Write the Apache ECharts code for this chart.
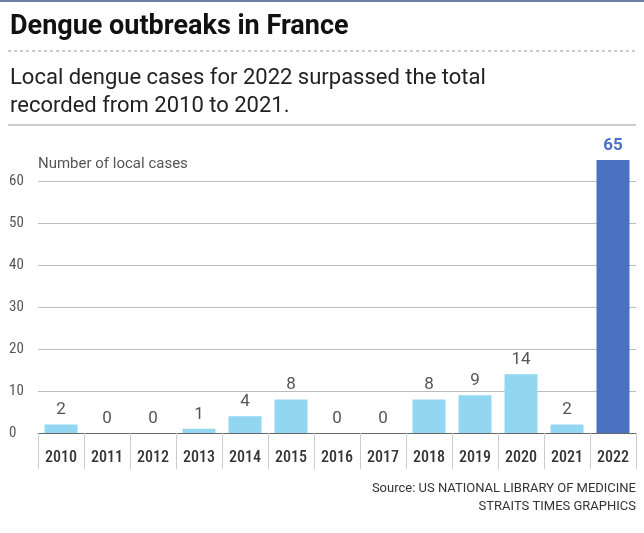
<!DOCTYPE html>
<html><head><meta charset="utf-8">
<script src="https://cdn.jsdelivr.net/npm/echarts@6/dist/echarts.min.js"></script>
<style>body{margin:0;background:#fff}#c{width:644px;height:533px}</style>
</head><body><div id="c"></div>
<script>
var years = ['2010','2011','2012','2013','2014','2015','2016','2017','2018','2019','2020','2021','2022'];
var cases = [2,0,0,1,4,8,0,0,8,9,14,2,65];
var yTicks = [0,10,20,30,40,50,60];

var chart = echarts.init(document.getElementById('c'));
var font = 'Roboto Condensed, Roboto, sans-serif';
chart.setOption({
  animation: false,
  grid: {left: 38, right: 8, top: 181, bottom: 100},
  graphic: [
    {type: 'rect', shape: {x: 0, y: 0, width: 644, height: 2}, style: {fill: '#6b7fa8'}},
    {type: 'text', left: 10, top: 14, style: {text: 'Dengue outbreaks in France', font: 'bold 27px Roboto, sans-serif', fill: '#111'}},
    {type: 'line', shape: {x1: 8, y1: 51, x2: 636, y2: 51}, style: {stroke: '#999', lineDash: [3, 3]}},
    {type: 'text', left: 10, top: 64, style: {text: 'Local dengue cases for 2022 surpassed the total\nrecorded from 2010 to 2021.', font: '22px Roboto, sans-serif', lineHeight: 28, fill: '#222'}},
    {type: 'line', shape: {x1: 8, y1: 125, x2: 636, y2: 125}, style: {stroke: '#999'}},
    {type: 'text', left: 38, top: 157, style: {text: 'Number of local cases', font: '15px Roboto, sans-serif', fill: '#555'}},
    {type: 'text', right: 8, top: 482, style: {text: 'Source: US NATIONAL LIBRARY OF MEDICINE', font: '13px Roboto, sans-serif', fill: '#333'}},
    {type: 'text', right: 8, top: 500, style: {text: 'STRAITS TIMES GRAPHICS', font: '13px Roboto, sans-serif', fill: '#333'}}
  ],
  xAxis: {
    type: 'category', data: years,
    axisLine: {lineStyle: {color: '#666'}},
    axisTick: {show: true, length: 36, lineStyle: {color: '#ccc'}},
    axisLabel: {color: '#333', fontSize: 16, margin: 17, fontFamily: font, fontWeight: 500}
  },
  yAxis: {
    type: 'value', min: 0, max: 60, interval: 10,
    axisLabel: {color: '#555', fontSize: 15, align: 'left', margin: 29, fontFamily: font,
      formatter: function (v) { return yTicks.indexOf(v) >= 0 ? v : ''; }},
    splitLine: {lineStyle: {color: '#bbb'}}
  },
  series: [{
    type: 'bar', clip: false, barWidth: 33,
    data: cases.map(function (v, i) {
      var last = i === cases.length - 1;
      return {value: v, itemStyle: {color: last ? '#4a70c2' : '#93d6f2'},
        label: last ? {color: '#4a70c2', fontWeight: 'bold'} : {}};
    }),
    label: {show: true, position: 'top', distance: 6, fontSize: 17, color: '#555', fontFamily: 'Roboto, sans-serif'}
  }]
});
</script></body></html>
